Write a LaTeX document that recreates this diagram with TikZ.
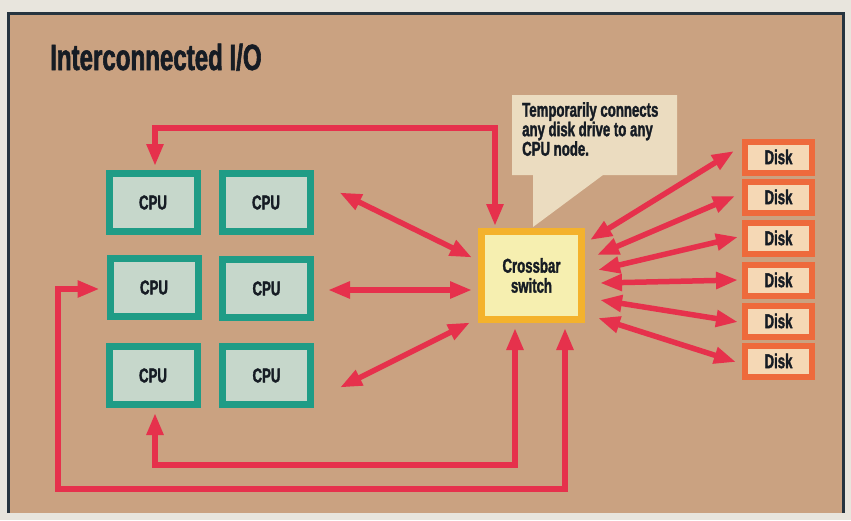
\documentclass[tikz,border=0pt]{standalone}
\usepackage{fontspec}
\setmainfont{Liberation Sans}
\newfontfamily\cond[FakeStretch=0.66,FakeBold=1.6]{Liberation Sans}
\usetikzlibrary{arrows.meta,calc}
\definecolor{page}{HTML}{E8E5DD}
\definecolor{tanbg}{HTML}{CAA281}
\definecolor{frame}{HTML}{26343F}
\definecolor{tealc}{HTML}{1F9C86}
\definecolor{cpufill}{HTML}{C6D7CB}
\definecolor{arrred}{HTML}{E6314C}
\definecolor{xbline}{HTML}{F4B22C}
\definecolor{xbfill}{HTML}{F6EFB0}
\definecolor{notefill}{HTML}{EBDCC0}
\definecolor{diskline}{HTML}{EE6A3C}
\definecolor{diskfill}{HTML}{F5D8B5}
\definecolor{ink}{HTML}{161C24}
\begin{document}
\begin{tikzpicture}[x=1pt,y=-1pt,
  lbl/.style={font=\cond\bfseries\fontsize{20}{20}\selectfont,text=ink},
  cpubox/.style={lbl,draw=tealc,fill=cpufill,line width=7pt,minimum width=88pt,minimum height=58pt,inner sep=0pt},
  xbbox/.style={lbl,draw=xbline,fill=xbfill,line width=7pt,minimum width=100pt,minimum height=88pt,align=center,inner sep=0pt},
  diskbox/.style={lbl,draw=diskline,fill=diskfill,line width=6pt,minimum width=67pt,minimum height=31pt,inner sep=0pt},
  dbl/.style={draw=arrred,line width=5.5pt,arrows={Triangle[length=22pt,width=16pt]-Triangle[length=22pt,width=16pt]}},
]
\useasboundingbox (0,0) rectangle (851,520);
\fill[page] (0,0) rectangle (851,520);
\fill[tanbg] (8,13) rectangle (843,513);
\draw[frame,line width=3pt] (8,513) -- (8,13) -- (843,13) -- (843,513);

% title
\node[anchor=base west,inner sep=0pt,font=\cond\bfseries\fontsize{36.5}{36.5}\selectfont,text=ink] (title) at (50,70) {Interconnected I/O};

% CPUs
\node[cpubox] (cpu1) at (153,202.5) {CPU};
\node[cpubox] (cpu2) at (266,202.5) {CPU};
\node[cpubox] (cpu3) at (154,287.5) {CPU};
\node[cpubox] (cpu4) at (266.5,288.5) {CPU};
\node[cpubox] (cpu5) at (153,375.5) {CPU};
\node[cpubox] (cpu6) at (266.5,375.5) {CPU};

% crossbar
\node[xbbox] (xb) at (531.5,275.5) {Crossbar\\switch};

% disks
\foreach \i/\y in {1/157,2/197,3/238,4/280,5/321,6/361}
  \node[diskbox] (d\i) at (778.5,\y) {Disk};

% callout
\fill[notefill] (512,95) -- (677,95) -- (677,175) -- (603,175) -- (533,227) -- (533,175) -- (512,175) -- cycle;
\node[lbl,anchor=north west,align=left,inner sep=0pt,font=\cond\bfseries\fontsize{20}{19.5}\selectfont] (note) at (522,102)
  {Temporarily connects\\any disk drive to any\\CPU node.};

% loops
\coordinate (tL) at (155,128);
\coordinate (tR) at (495,128);
\draw[dbl,shorten <=4pt,shorten >=2pt] (tL |- cpu1.north) -- (tL) -- (tR) -- (tR |- xb.north);

\coordinate (iL) at (155,465);
\coordinate (iR) at (515,465);
\draw[dbl,shorten <=5pt,shorten >=5pt] (iL |- cpu5.south) -- (iL) -- (iR) -- (iR |- xb.south);

\coordinate (oL) at (58,289);
\coordinate (oB) at (58,489);
\coordinate (oR) at (565,489);
\draw[dbl,shorten <=7pt,shorten >=5pt] (cpu3.west |- oL) -- (oL) -- (oB) -- (oR) -- (oR |- xb.south);

% CPU <-> crossbar
\draw[dbl] ($(cpu2.east)+(26,-10)$) -- ($(xb.west)+(-6,-18)$);
\draw[dbl] ($(cpu4.east)+(14,1.5)$) -- ($(xb.west)+(-6,14.5)$);
\draw[dbl] ($(cpu6.east)+(26,12)$) -- ($(xb.west)+(-8,47)$);

% crossbar <-> disks
\draw[dbl] ($(xb.east)+(5,-35.5)$) -- ($(d1.west)+(-8,-6)$);
\draw[dbl] ($(xb.east)+(12,-20.5)$) -- ($(d2.west)+(-7,-1)$);
\draw[dbl] ($(xb.east)+(13,-5.5)$) -- ($(d3.west)+(-4,-1)$);
\draw[dbl] ($(xb.east)+(15,7.5)$) -- ($(d4.west)+(-4,0)$);
\draw[dbl] ($(xb.east)+(15,24.5)$) -- ($(d5.west)+(-4,1)$);
\draw[dbl] ($(xb.east)+(13,42.5)$) -- ($(d6.west)+(-6,1)$);
\end{tikzpicture}
\end{document}
